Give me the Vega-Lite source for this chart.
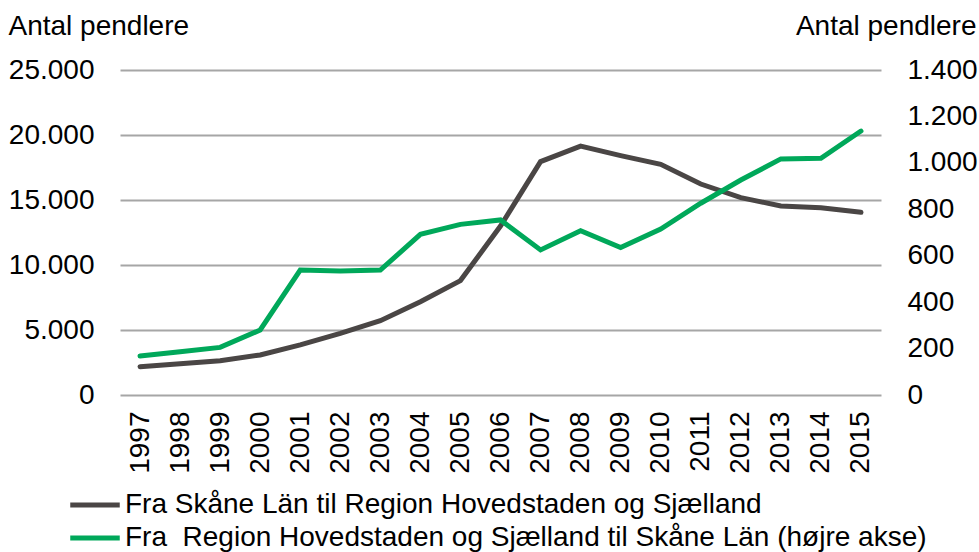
{
  "$schema": "https://vega.github.io/schema/vega-lite/v6.json",
  "width": 761,
  "height": 325,
  "autosize": {"type": "none"},
  "padding": {"left": 120, "top": 70, "right": 98, "bottom": 157},
  "background": "white",
  "config": {
    "font": "Liberation Sans",
    "view": {"stroke": null},
    "axis": {"labelFont": "Liberation Sans", "titleFont": "Liberation Sans", "labelColor": "#000", "titleColor": "#000", "labelFontSize": 28, "titleFontSize": 28, "titleFontWeight": "normal"},
    "legend": {"labelFont": "Liberation Sans", "labelColor": "#000", "labelFontSize": 28}
  },
  "data": {
    "values": [
      {"year": "1997", "serie": "dk", "value": 2180},
      {"year": "1998", "serie": "dk", "value": 2410},
      {"year": "1999", "serie": "dk", "value": 2640},
      {"year": "2000", "serie": "dk", "value": 3080},
      {"year": "2001", "serie": "dk", "value": 3850},
      {"year": "2002", "serie": "dk", "value": 4740},
      {"year": "2003", "serie": "dk", "value": 5720},
      {"year": "2004", "serie": "dk", "value": 7180},
      {"year": "2005", "serie": "dk", "value": 8800},
      {"year": "2006", "serie": "dk", "value": 13000},
      {"year": "2007", "serie": "dk", "value": 17950},
      {"year": "2008", "serie": "dk", "value": 19150},
      {"year": "2009", "serie": "dk", "value": 18410},
      {"year": "2010", "serie": "dk", "value": 17740},
      {"year": "2011", "serie": "dk", "value": 16230},
      {"year": "2012", "serie": "dk", "value": 15180},
      {"year": "2013", "serie": "dk", "value": 14540},
      {"year": "2014", "serie": "dk", "value": 14410},
      {"year": "2015", "serie": "dk", "value": 14050},
      {"year": "1997", "serie": "gr", "value": 168},
      {"year": "1998", "serie": "gr", "value": 186},
      {"year": "1999", "serie": "gr", "value": 205},
      {"year": "2000", "serie": "gr", "value": 280},
      {"year": "2001", "serie": "gr", "value": 538},
      {"year": "2002", "serie": "gr", "value": 534},
      {"year": "2003", "serie": "gr", "value": 538},
      {"year": "2004", "serie": "gr", "value": 692},
      {"year": "2005", "serie": "gr", "value": 735},
      {"year": "2006", "serie": "gr", "value": 754},
      {"year": "2007", "serie": "gr", "value": 625},
      {"year": "2008", "serie": "gr", "value": 708},
      {"year": "2009", "serie": "gr", "value": 635},
      {"year": "2010", "serie": "gr", "value": 715},
      {"year": "2011", "serie": "gr", "value": 826},
      {"year": "2012", "serie": "gr", "value": 926},
      {"year": "2013", "serie": "gr", "value": 1017},
      {"year": "2014", "serie": "gr", "value": 1020},
      {"year": "2015", "serie": "gr", "value": 1137}
    ]
  },
  "transform": [
    {"lookup": "serie", "from": {"data": {"values": [
      {"serie": "dk", "name": "\u00a0Fra Skåne Län til Region Hovedstaden og Sjælland"},
      {"serie": "gr", "name": "Fra\u00a0 Region Hovedstaden og Sjælland til Skåne Län (højre akse)"}
    ]}, "key": "serie", "fields": ["name"]}}
  ],
  "encoding": {
    "x": {
      "field": "year", "type": "ordinal",
      "scale": {"paddingOuter": 0.5},
      "axis": {"title": null, "labelAngle": -90, "labelPadding": 16, "ticks": false, "domain": false, "grid": false}
    },
    "color": {
      "field": "name", "type": "nominal",
      "scale": {
        "domain": ["\u00a0Fra Skåne Län til Region Hovedstaden og Sjælland", "Fra\u00a0 Region Hovedstaden og Sjælland til Skåne Län (højre akse)"],
        "range": ["#4a4645", "#00a85a"]
      },
      "legend": {
        "title": null, "orient": "none", "direction": "vertical",
        "legendX": -44, "legendY": 416,
        "symbolType": "M-1.5,0H1.5", "symbolSize": 1089, "symbolStrokeWidth": 5,
        "rowPadding": 0, "labelOffset": 11, "labelLimit": 0
      }
    }
  },
  "layer": [
    {
      "transform": [{"filter": "datum.serie == 'dk'"}],
      "mark": {"type": "line", "strokeWidth": 5, "strokeCap": "round", "strokeJoin": "miter"},
      "encoding": {
        "y": {
          "field": "value", "type": "quantitative",
          "scale": {"domain": [0, 25000], "nice": false},
          "axis": {
            "title": "Antal pendlere", "titleAngle": 0, "titleAlign": "left", "titleBaseline": "alphabetic",
            "titleX": -112, "titleY": -36,
            "values": [0, 5000, 10000, 15000, 20000, 25000],
            "labelExpr": "replace(format(datum.value, ','), ',', '.')",
            "ticks": false, "domain": false, "labelPadding": 26,
            "grid": true, "gridColor": "#a6a6a6", "gridWidth": 2
          }
        }
      }
    },
    {
      "transform": [{"filter": "datum.serie == 'gr'"}],
      "mark": {"type": "line", "strokeWidth": 5, "strokeCap": "round", "strokeJoin": "miter"},
      "encoding": {
        "y": {
          "field": "value", "type": "quantitative",
          "scale": {"domain": [0, 1400], "nice": false},
          "axis": {
            "orient": "right",
            "title": "Antal pendlere", "titleAngle": 0, "titleAlign": "right", "titleBaseline": "alphabetic",
            "titleX": 95, "titleY": -36,
            "values": [0, 200, 400, 600, 800, 1000, 1200, 1400],
            "labelExpr": "replace(format(datum.value, ','), ',', '.')",
            "ticks": false, "domain": false, "labelPadding": 26, "grid": false
          }
        }
      }
    }
  ],
  "resolve": {"scale": {"y": "independent"}}
}
